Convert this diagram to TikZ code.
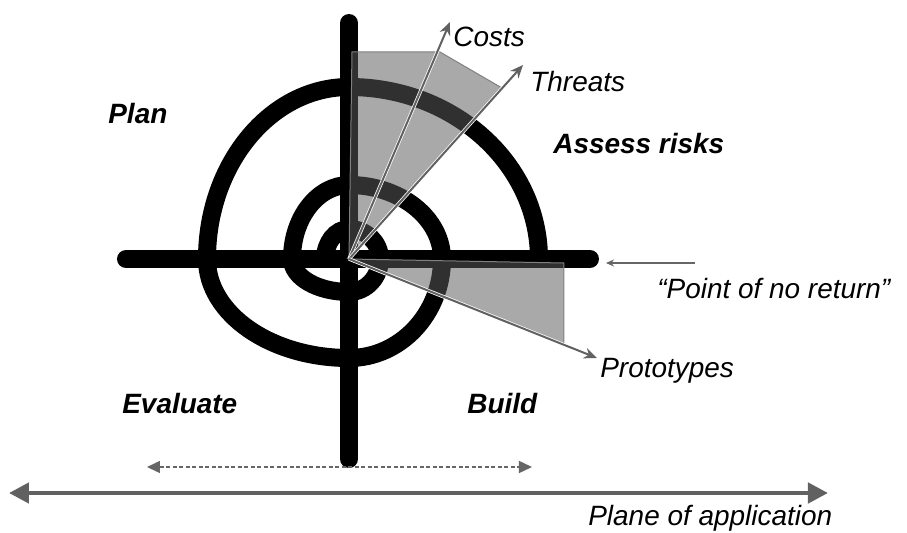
\documentclass[tikz,border=0pt]{standalone}
\usepackage{fontspec}
\setmainfont{Liberation Sans}
\usetikzlibrary{arrows.meta}

\begin{document}
\begin{tikzpicture}[x=0.2mm, y=0.2mm,
	every node/.style={inner sep=0pt, anchor=base west, font=\fontsize{15.9}{19}\selectfont\itshape},
	phase/.style={font=\fontsize{15.9}{19}\selectfont\bfseries\itshape},
	bar/.style={line width=3.6mm, line cap=round},
	wedge/.style={fill=black!64, fill opacity=0.525, draw=black!50, line width=0.2mm},
	ray/.style={draw=black!62, line width=0.4mm, -{Stealth[length=2.6mm,width=2.2mm]},
		preaction={draw=white, line width=0.7mm, -}}]
	
	\useasboundingbox (-349,-274) rectangle (558,259);
	
	% axes
	\coordinate (o) at (0,0);
	\draw[bar] (0,236) -- (0,-200);
	\draw[bar] (-223,0) -- (241,0);
	
	% spiral, one quarter at a time
	\draw[line width=3.6mm] (-24,0)
	arc[start angle=180, end angle=90, x radius=24, y radius=30]
	arc[start angle=90, end angle=0, x radius=31, y radius=30]
	arc[start angle=0, end angle=-90, x radius=31, y radius=33]
	arc[start angle=270, end angle=180, x radius=57, y radius=33]
	arc[start angle=180, end angle=90, x radius=57, y radius=74]
	arc[start angle=90, end angle=0, x radius=93, y radius=74]
	arc[start angle=0, end angle=-90, x radius=93, y radius=99]
	arc[start angle=270, end angle=180, x radius=142, y radius=99]
	arc[start angle=180, end angle=90, x radius=142, y radius=172]
	arc[start angle=90, end angle=0, x radius=190, y radius=172];
	
	% shaded sectors
	\filldraw[wedge] (o) -- (3,207) -- (91,207) -- (153,171) -- cycle;
	\filldraw[wedge] (o) -- (215,-4) -- (215,-86) -- cycle;
	
	% phases
	\node[phase] (plan) at (-241,136) {Plan};
	\node[phase] (assess) at (204,106) {Assess risks};
	\node[phase] (evaluate) at (-227,-154) {Evaluate};
	\node[phase] (build) at (118,-154) {Build};
	
	% labels
	\node (costs) at (104,212) {Costs};
	\node (threats) at (181,167) {Threats};
	\node (prototypes) at (251,-118) {Prototypes};
	\node (ponr) at (308,-39) {“Point of no return”};
	\node (plane) at (239,-266) {Plane of application};
	
	% rays from the centre
	\coordinate (tc) at (101,237);
	\coordinate (tt) at (174,194);
	\coordinate (tp) at (248,-99);
	\draw[ray] (o) -- (tc);
	\draw[ray] (o) -- (tt);
	\draw[ray] (o) -- (tp);
	
	% arrow to the end of the axis
	\coordinate (p1) at (346,-4);
	\coordinate (p2) at (257,-4);
	\draw[black!60, line width=0.3mm, -{Stealth[length=1.6mm,width=1.4mm]}] (p1) -- (p2);
	
	% ranges
	\coordinate (d1) at (-202,-208);
	\coordinate (d2) at (183,-208);
	\draw[black!60, line width=0.3mm, dash pattern=on 0.8mm off 0.5mm,
	{Triangle[length=2.6mm,width=2.4mm]}-{Triangle[length=2.6mm,width=2.4mm]}] (d1) -- (d2);
	\coordinate (b1) at (-340,-234);
	\coordinate (b2) at (479,-234);
	\draw[black!62, line width=0.9mm,
	{Triangle[length=4mm,width=4mm]}-{Triangle[length=4mm,width=4mm]}] (b1) -- (b2);
	
\end{tikzpicture}
\end{document}
